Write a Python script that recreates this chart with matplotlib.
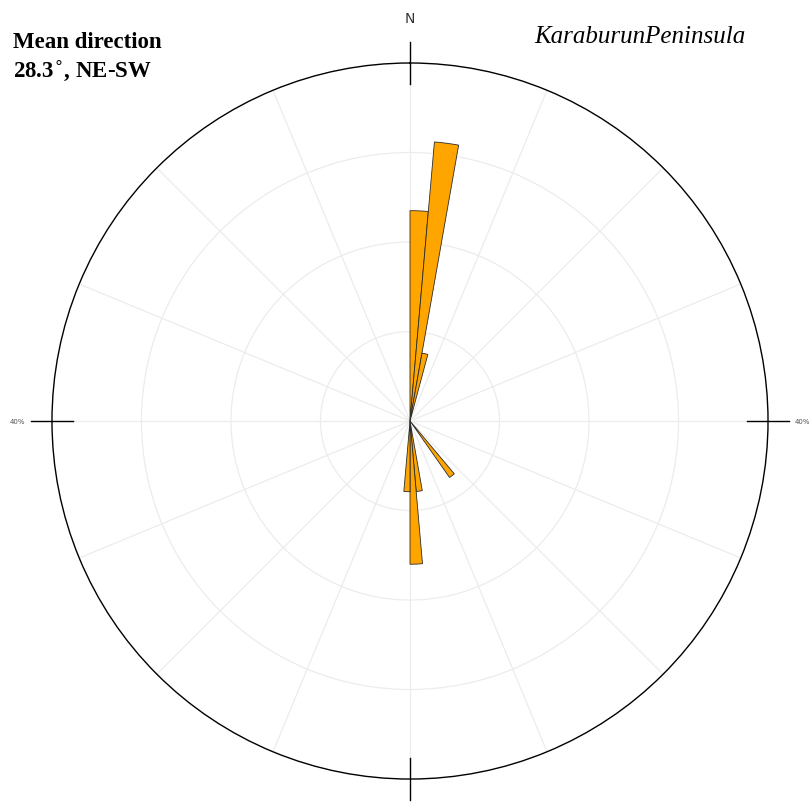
import numpy as np
import matplotlib
matplotlib.use("Agg")
import matplotlib.pyplot as plt

# rose diagram, azimuth bins (deg, clockwise from N), 5 deg wide
bin_start = [0, 5, 10, 140, 170, 175, 180]
freq = [23.5, 31.3, 7.7, 7.7, 7.9, 16.0, 7.9]
bin_width = 5
r_max = 40
r_grid = [10, 20, 30]
title_lines = ["Mean direction", "28.3$^{\\circ}$, NE-SW"]
site_name = "KaraburunPeninsula"

fig = plt.figure(figsize=(8.11, 8.03), dpi=100, facecolor="white")
ax = fig.add_axes([0.0641, 0.0286, 0.8829, 0.8917], projection="polar")
ax.set_theta_zero_location("N")
ax.set_theta_direction(-1)
ax.set_ylim(0, r_max)

theta = np.deg2rad(bin_start)
ax.bar(theta, freq, width=np.deg2rad(bin_width), align="edge",
       color="#FFA500", edgecolor="#2b2b2b", linewidth=0.6, zorder=3)

ax.set_rgrids(r_grid, labels=[""] * len(r_grid))
ax.set_thetagrids(np.arange(0, 360, 22.5), labels=[""] * 16)
ax.grid(True, color="#ececec", linewidth=0.9)
ax.tick_params(length=0)
ax.spines["polar"].set_color("black")
ax.spines["polar"].set_linewidth(1.0)

# crosses where the axes meet the circle
for a in [0, 90, 180, 270]:
    t = np.deg2rad(a)
    ax.plot([t, t], [37.6, 42.3], color="black", linewidth=1.0,
            clip_on=False, zorder=4)

ax.text(0, 45.0, "N", ha="center", va="center", fontsize=10,
        color="#333333", clip_on=False)
ax.text(np.deg2rad(270), 43.9, "40%", ha="center", va="center",
        fontsize=5, color="#555555", clip_on=False)
ax.text(np.deg2rad(90), 43.9, "40%", ha="center", va="center",
        fontsize=5, color="#555555", clip_on=False)

fig.text(13 / 811, 1 - 42 / 803, title_lines[0], fontsize=16.5,
         fontweight="bold", family="Liberation Serif", va="center", ha="left")
fig.text(13 / 811, 1 - 71 / 803, title_lines[1], fontsize=16.5,
         fontweight="bold", family="Liberation Serif", va="center", ha="left")
fig.text(640 / 811, 1 - 37 / 803, site_name, fontsize=18, style="italic",
         family="Liberation Serif", va="center", ha="center")

fig.savefig("out.png", dpi=100, facecolor="white")
